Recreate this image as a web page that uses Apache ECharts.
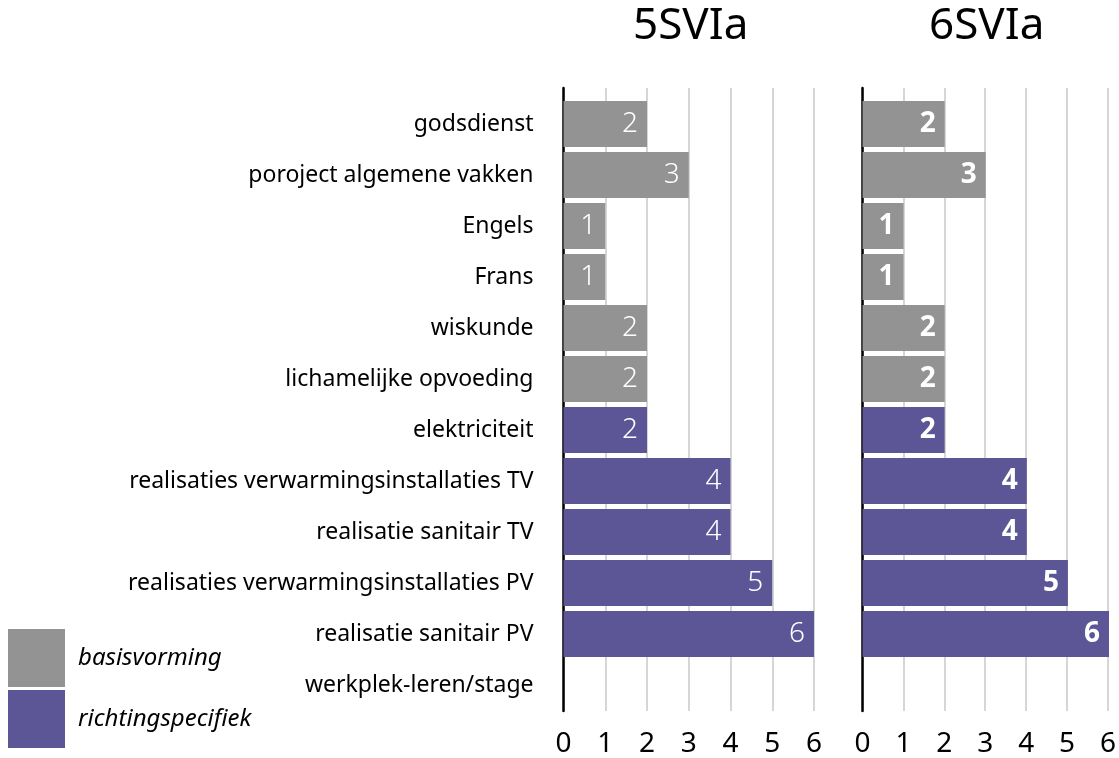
<!DOCTYPE html>
<html>
<head>
<meta charset="utf-8">
<script src="https://cdn.jsdelivr.net/npm/echarts@6/dist/echarts.min.js"></script>
<style>
  html, body { margin: 0; padding: 0; background: #fff; }
  #chart { width: 1119px; height: 758px; }
</style>
</head>
<body>
<div id="chart"></div>
<script>
const categories = [
  'godsdienst',
  'poroject algemene vakken',
  'Engels',
  'Frans',
  'wiskunde',
  'lichamelijke opvoeding',
  'elektriciteit',
  'realisaties verwarmingsinstallaties TV',
  'realisatie sanitair TV',
  'realisaties verwarmingsinstallaties PV',
  'realisatie sanitair PV',
  'werkplek-leren/stage'
];
// hours per week, '-' = not in that group
const basis5 = [2, 3, 1, 1, 2, 2, '-', '-', '-', '-', '-', '-'];
const richting5 = ['-', '-', '-', '-', '-', '-', 2, 4, 4, 5, 6, '-'];
const basis6 = [2, 3, 1, 1, 2, 2, '-', '-', '-', '-', '-', '-'];
const richting6 = ['-', '-', '-', '-', '-', '-', 2, 4, 4, 5, 6, '-'];
const panelTitles = ['5SVIa', '6SVIa'];
const xTicks = [0, 1, 2, 3, 4, 5, 6];

const GRAY = '#939393';
const PURPLE = '#5c5696';
const FONT = '"Noto Sans", sans-serif';

const chart = echarts.init(document.getElementById('chart'), null, { renderer: 'canvas' });

// panel geometry: [left, right]
const panels = [[563.5, 305], [862.5, 10]];
const titleLeft = [633, 929];

const grids = [];
const xAxes = [];
const yAxes = [];
panels.forEach(([l, r], i) => {
  // outer grid: axis line, grid lines, tick labels
  grids.push({ left: l, right: r, top: 88, bottom: 38 });
  // inner grid: the bars
  grids.push({ left: l, right: r, top: 98.5, bottom: 47.5 });

  xAxes.push({
    gridIndex: i * 2, type: 'value', min: 0, max: 6, interval: 1,
    axisLine: { show: false }, axisTick: { show: false },
    axisLabel: {
      color: '#000', fontFamily: FONT, fontSize: 28, margin: 19,
      formatter: v => xTicks.includes(v) ? String(v) : ''
    },
    splitLine: { show: true, lineStyle: { color: '#c8c8c8', width: 1.5 } }
  });
  xAxes.push({
    gridIndex: i * 2 + 1, type: 'value', min: 0, max: 6, interval: 1,
    show: false
  });
  yAxes.push({
    gridIndex: i * 2, type: 'category', data: [''],
    axisLine: { show: true, lineStyle: { color: '#000', width: 2.5 } },
    axisTick: { show: false }, axisLabel: { show: false }
  });
  yAxes.push({
    gridIndex: i * 2 + 1, type: 'category', data: categories, inverse: true,
    axisLine: { show: false }, axisTick: { show: false },
    axisLabel: i === 0 ? {
      show: true, color: '#000', fontFamily: FONT, fontSize: 23, margin: 30
    } : { show: false }
  });
});

function barSeries(name, data, color, panel) {
  return {
    name, type: 'bar', stack: 'p' + panel,
    xAxisIndex: panel * 2 + 1, yAxisIndex: panel * 2 + 1,
    data, barWidth: 46,
    itemStyle: { color },
    label: {
      show: true, position: 'insideRight', distance: 9,
      color: '#fff', fontFamily: FONT, fontSize: 28,
      fontWeight: panel === 0 ? 300 : 'bold'
    }
  };
}

chart.setOption({
  backgroundColor: '#fff',
  animation: false,
  title: panelTitles.map((t, i) => ({
    text: t,
    left: titleLeft[i],
    top: 4,
    padding: 0,
    textStyle: { fontFamily: FONT, fontSize: 44, fontWeight: 'normal', color: '#000' }
  })),
  legend: {
    orient: 'vertical', left: 8, top: 629, padding: 0,
    itemWidth: 57, itemHeight: 58, itemGap: 3,
    icon: 'rect',
    data: ['basisvorming', 'richtingspecifiek'],
    textStyle: { fontFamily: FONT, fontSize: 24, fontStyle: 'italic', color: '#000', padding: [0, 0, 0, 8] }
  },
  grid: grids,
  xAxis: xAxes,
  yAxis: yAxes,
  series: [
    barSeries('basisvorming', basis5, GRAY, 0),
    barSeries('richtingspecifiek', richting5, PURPLE, 0),
    barSeries('basisvorming', basis6, GRAY, 1),
    barSeries('richtingspecifiek', richting6, PURPLE, 1)
  ]
});
</script>
</body>
</html>
